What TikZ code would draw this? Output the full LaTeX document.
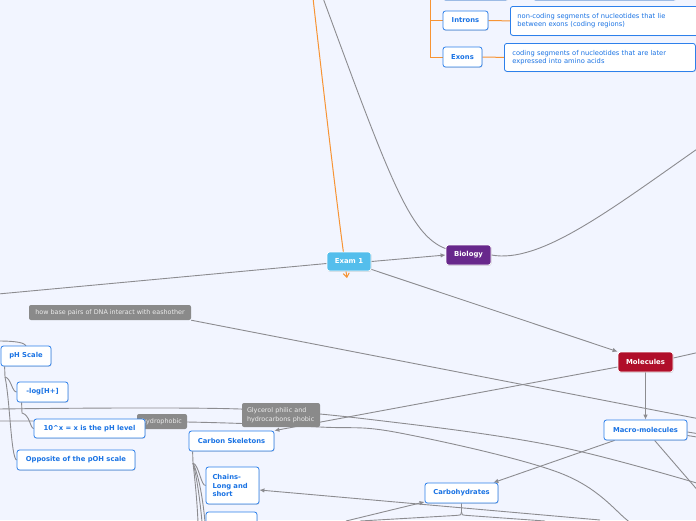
\documentclass[tikz,border=0pt]{standalone}
\usepackage{fontspec}
\setmainfont{DejaVu Sans}
\usetikzlibrary{arrows.meta,shadows}
\pgfdeclarelayer{back}
\pgfdeclarelayer{bg}
\pgfsetlayers{back,bg,main}
\definecolor{bgc}{RGB}{242,245,255}
\definecolor{tblue}{RGB}{26,115,228}
\definecolor{bblue}{RGB}{45,128,235}
\definecolor{lgray}{RGB}{138,138,138}
\definecolor{cgray}{RGB}{140,140,144}
\definecolor{orng}{RGB}{247,148,52}
\definecolor{examc}{RGB}{84,190,236}
\definecolor{bioc}{RGB}{104,40,140}
\definecolor{molc}{RGB}{176,14,42}
\tikzset{
 topic/.style={draw=bblue, line width=0.8pt, fill=white, rounded corners=2.5pt, text=tblue,
   font=\fontsize{6.8}{8.8}\selectfont\bfseries, inner sep=0pt, align=center,
   drop shadow={shadow xshift=0.5pt,shadow yshift=-0.8pt,opacity=0.25}},
 desc/.style={topic, font=\fontsize{6.7}{8}\selectfont, align=left},
 mainnode/.style={draw=white, line width=0.8pt, rounded corners=2.5pt, text=white,
   font=\fontsize{6.9}{8.8}\selectfont\bfseries, inner sep=0pt,
   drop shadow={shadow xshift=0.5pt,shadow yshift=-0.8pt,opacity=0.3}},
 lab/.style={fill=lgray, rounded corners=2pt, text=white!92!black,
   font=\fontsize{6.4}{8.8}\selectfont, inner sep=0pt},
 conn/.style={draw=cgray, line width=0.9pt},
 oconn/.style={draw=orng, line width=1pt},
 arr/.style={-{Latex[length=5pt,width=4.5pt]}},
}
\begin{document}
\begin{tikzpicture}[x=1pt,y=-1pt]
\begin{pgfonlayer}{back}
\fill[bgc] (0,0) rectangle (696,520);
\end{pgfonlayer}
\useasboundingbox (0,0) rectangle (696,520);

% ---------- nodes ----------
\node[topic, minimum width=65pt, minimum height=20pt] (topA) at (475.5,-10) {};
\node[topic, minimum width=143pt, minimum height=20pt] (topB) at (604.5,-10) {};
\node[topic, minimum width=45pt, minimum height=19pt] (introns) at (465.5,20.5) {Introns};
\node[desc, text width=175pt, inner xsep=7pt, minimum height=29pt, anchor=north west] (intronsd) at (510,6)
  {non-coding segments of nucleotides that lie\\between exons (coding regions)};
\node[topic, minimum width=39pt, minimum height=20pt] (exons) at (462.5,57) {Exons};
\node[desc, text width=175pt, inner xsep=8pt, minimum height=28pt, anchor=north west] (exonsd) at (504,43)
  {coding segments of nucleotides that are later\\expressed into amino acids};

\node[mainnode, fill=examc, minimum width=44pt, minimum height=19pt] (exam) at (349,261.5) {Exam 1};
\node[mainnode, fill=bioc, minimum width=45pt, minimum height=20pt] (bio) at (468.5,255) {Biology};
\node[mainnode, fill=molc, minimum width=55pt, minimum height=20pt] (mol) at (645.5,362) {Molecules};
\node[topic, minimum width=83pt, minimum height=20pt] (macro) at (645.5,430) {Macro-molecules};
\node[topic, minimum width=73pt, minimum height=20pt] (carb) at (461.5,493) {Carbohydrates};

\node[lab, minimum width=162pt, minimum height=15pt] (dna) at (110,312.5) {how base pairs of DNA interact with eashother};
\node[lab, minimum width=50pt, minimum height=15pt] (hydro) at (162,421.5) {hydrophobic};
\node[lab, text width=68pt, inner xsep=5pt, minimum height=24pt, align=left] (glyc) at (281,415)
  {Glycerol philic and\\hydrocarbons phobic};

\node[topic, minimum width=85pt, minimum height=20pt] (carbon) at (231.5,441) {Carbon Skeletons};
\node[topic, text width=40pt, inner xsep=6.5pt, minimum height=37pt, align=left] (chains) at (232.5,485.5)
  {Chains-\\Long and\\short};
\node[topic, minimum width=51pt, minimum height=28pt] (below) at (231.5,526) {};

\node[topic, minimum width=50pt, minimum height=20pt] (ph) at (26,356) {pH Scale};
\node[topic, minimum width=51pt, minimum height=20pt] (log) at (42.5,392) {-log[H+]};
\node[topic, minimum width=111pt, minimum height=19pt] (tenx) at (89.5,428.5) {10\textasciicircum x = x is the pH level};
\node[topic, minimum width=118pt, minimum height=20pt] (opp) at (76,460) {Opposite of the pOH scale};

% ---------- coordinates ----------
\coordinate (o1) at (313,-2);
\coordinate (o2) at (347,278);
\coordinate (ot) at (430,-2);
\coordinate (oi) at (430,20.5);
\coordinate (oe) at (430,57);
\coordinate (g1) at (323,-2);
\coordinate (r1) at (700,147);
\coordinate (l1) at (-2,294);
\coordinate (r2) at (700,352);
\coordinate (r3) at (700,434);
\coordinate (r4) at (700,437.5);
\coordinate (r5) at (700,493);
\coordinate (dr) at (700,419);
\coordinate (pl) at (-2,341);
\coordinate (p0) at (5,377);
\coordinate (p1) at (22,413);
\coordinate (c0) at (193,463);
\coordinate (c1) at (198,522);
\coordinate (c2) at (202,522);
\coordinate (c3) at (205,522);
\coordinate (ch1) at (600,520);
\coordinate (cb1) at (346,521);
\coordinate (k0) at (461.5,512);
\coordinate (k1) at (360,521);
\coordinate (k2) at (545,521);

% ---------- connectors ----------
\begin{pgfonlayer}{bg}
\draw[oconn, -{Straight Barb[length=4pt,width=6pt]}] (o1) .. controls (328,130) and (340,230) .. (o2);
\draw[oconn] (ot) -- (oe) -- (exons.west);
\draw[oconn] (oi) -- (introns.west);
\draw[oconn] (introns.east) -- (intronsd.west);
\draw[oconn] (exons.east) -- (exonsd.west);

\draw[conn] (g1) .. controls (390,180) and (410,235) .. ([yshift=-4pt]bio.north west);
\draw[conn] (bio.east) .. controls (540,264) and (610,210) .. (r1);
\draw[conn] (l1) -- ([yshift=-2pt]exam.west);
\draw[conn, arr] (exam.east) -- (bio.west);
\draw[conn, arr] ([yshift=2pt]exam.south east) -- (mol.north west);
\draw[conn] ([yshift=4pt]mol.east) -- (r2);
\draw[conn, arr] (mol.south) -- (macro.north);
\draw[conn, arr] ([yshift=-5pt]mol.west) -- (carbon.north east);
\draw[conn] ([yshift=-2pt]macro.east) -- (r3);
\draw[conn] ([yshift=-5.5pt]macro.east) -- (r4);
\draw[conn] ([xshift=51pt]macro.south west) -- (r5);
\draw[conn, arr] ([xshift=11pt]macro.south west) -- ([xshift=-5pt]carb.north east);
\draw[conn] (dna.south east) -- (dr);

\draw[conn] plot[smooth, tension=0.6] coordinates {(-2,409) (240,409) (400,423) (560,447) (700,484)};
\draw[conn] plot[smooth, tension=0.6] coordinates {(-2,421) (187,422) (320,427) (400,433) (560,473) (627,520) (637,535)};

\draw[conn] (pl) .. controls (18,341) and (24,343) .. (ph.north);
\draw[conn] ([xshift=4pt]ph.south west) -- (p0) .. controls (11,378) and (12,392) .. (log.west);
\draw[conn] (p0) .. controls (10,400) and (11,458) .. (opp.west);
\draw[conn] ([xshift=5pt]log.south west) -- (p1) .. controls (30,415) and (30,428) .. (tenx.west);

\draw[conn] ([xshift=4pt]carbon.south west) -- (c0) .. controls (199,465) and (201,486) .. (chains.west);
\draw[conn] (c0) .. controls (195,480) and (197,500) .. (c1);
\draw[conn] (c0) .. controls (197,478) and (200,500) .. (c2);
\draw[conn] (c0) .. controls (199,476) and (203,500) .. (c3);

\draw[conn, arr] (ch1) -- ([yshift=-4.5pt]chains.east);
\draw[conn, arr] (cb1) -- ([yshift=1.5pt]carb.south west);
\draw[conn] (carb.south) -- (k0) .. controls (461.5,515) .. (455,515.5) -- (k1);
\draw[conn] (k0) .. controls (461.5,515) .. (468,515.5) -- (k2);
\end{pgfonlayer}
\end{tikzpicture}
\end{document}
